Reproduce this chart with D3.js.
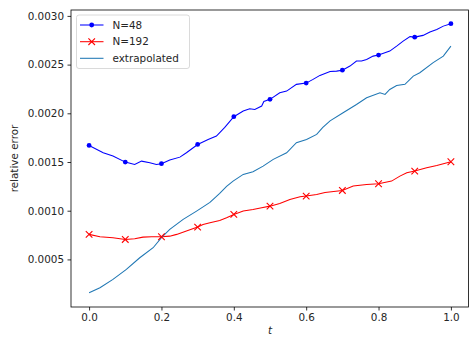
<!DOCTYPE html>
<html><head><meta charset="utf-8">
<script src="https://cdn.jsdelivr.net/npm/d3@7"></script>
<style>
html,body{margin:0;padding:0;background:#fff;}
text{font-family:"DejaVu Sans",sans-serif;}
</style></head>
<body>
<svg id="chart" width="469" height="337"></svg>
<script>
const xTicks = [0.0, 0.2, 0.4, 0.6, 0.8, 1.0];
const yTicks = [0.0005, 0.0010, 0.0015, 0.0020, 0.0025, 0.0030];
const markerT = [0.0, 0.1, 0.2, 0.3, 0.4, 0.5, 0.6, 0.7, 0.8, 0.9, 1.0];

const tN48 = [0,0.039,0.066,0.1,0.126,0.145,0.168,0.186,0.2,0.223,0.251,0.269,0.3,0.329,0.352,0.375,0.4,0.426,0.444,0.458,0.477,0.483,0.5,0.527,0.546,0.573,0.6,0.619,0.638,0.666,0.684,0.7,0.721,0.739,0.753,0.767,0.785,0.8,0.831,0.85,0.868,0.887,0.9,0.923,0.942,0.961,0.979,1.0];
const vN48 = [0.001670,0.001595,0.001561,0.001499,0.001475,0.001509,0.001493,0.001475,0.001483,0.001520,0.001550,0.001595,0.001680,0.001732,0.001766,0.001855,0.001965,0.002023,0.002047,0.002040,0.002074,0.002122,0.002143,0.002211,0.002228,0.002297,0.002310,0.002348,0.002389,0.002430,0.002433,0.002443,0.002485,0.002536,0.002536,0.002553,0.002587,0.002598,0.002639,0.002690,0.002741,0.002787,0.002782,0.002800,0.002834,0.002861,0.002895,0.002920];

const tN192 = [0,0.030,0.066,0.1,0.126,0.149,0.173,0.2,0.223,0.242,0.269,0.3,0.315,0.334,0.361,0.380,0.4,0.426,0.453,0.477,0.5,0.527,0.555,0.583,0.6,0.629,0.652,0.7,0.730,0.767,0.8,0.836,0.859,0.878,0.9,0.933,0.961,1.0];
const vN192 = [0.000757,0.000733,0.000723,0.000705,0.000713,0.000729,0.000733,0.000733,0.000739,0.000757,0.000791,0.000832,0.000859,0.000877,0.000900,0.000928,0.000962,0.000996,0.001013,0.001031,0.001047,0.001075,0.001116,0.001144,0.001150,0.001167,0.001188,0.001208,0.001253,0.001270,0.001277,0.001304,0.001355,0.001390,0.001407,0.001441,0.001465,0.001503];

const tExt = [0,0.030,0.066,0.103,0.140,0.177,0.200,0.223,0.260,0.297,0.334,0.361,0.380,0.398,0.426,0.453,0.481,0.509,0.546,0.573,0.601,0.629,0.646,0.666,0.702,0.739,0.767,0.804,0.818,0.831,0.850,0.873,0.896,0.914,0.951,0.979,1.0];
const vExt = [0.000158,0.000209,0.000295,0.000397,0.000517,0.000620,0.000723,0.000808,0.000911,0.000996,0.001085,0.001178,0.001250,0.001304,0.001373,0.001400,0.001458,0.001527,0.001595,0.001698,0.001732,0.001783,0.001855,0.001922,0.002006,0.002091,0.002160,0.002211,0.002194,0.002245,0.002286,0.002297,0.002382,0.002417,0.002520,0.002587,0.002690];

const seriesNames = ["N=48", "N=192", "extrapolated"];
const seriesColors = ["#0000ff", "#ff0000", "#1f77b4"];

const svg = d3.select("#chart");
const L = 71, R = 469, T = 10, B = 307;
const x = d3.scaleLinear().domain([-0.05, 1.05]).range([L, R]);
const y = d3.scaleLinear().domain([0.0000115, 0.0030605]).range([B, T]);

const fs = 10.4;
const xAxis = d3.axisBottom(x).tickValues(xTicks).tickFormat(d3.format(".1f")).tickSizeOuter(0).tickSize(3.5).tickPadding(3.5);
const yAxis = d3.axisLeft(y).tickValues(yTicks).tickFormat(d3.format(".4f")).tickSizeOuter(0).tickSize(3.5).tickPadding(3.5);
const gx = svg.append("g").attr("transform", `translate(0,${B})`).call(xAxis);
const gy = svg.append("g").attr("transform", `translate(${L},0)`).call(yAxis);
[gx, gy].forEach(g => {
  g.select(".domain").remove();
  g.selectAll(".tick line").attr("stroke", "#000").attr("stroke-width", 0.8);
  g.selectAll(".tick text").attr("fill", "#262626").style("font-size", fs + "px").style("font-family", "DejaVu Sans");
});

const clip = svg.append("clipPath").attr("id", "clip").append("rect").attr("x", L).attr("y", T).attr("width", R - L).attr("height", B - T);
const plot = svg.append("g").attr("clip-path", "url(#clip)");
const line = d3.line().x(d => x(d[0])).y(d => y(d[1]));
const zip = (a, b) => a.map((t, i) => [t, b[i]]);

const dExt = zip(tExt, vExt), d48 = zip(tN48, vN48), d192 = zip(tN192, vN192);
plot.append("path").attr("d", line(d48)).attr("fill", "none").attr("stroke", seriesColors[0]).attr("stroke-width", 1.05);
plot.append("path").attr("d", line(d192)).attr("fill", "none").attr("stroke", seriesColors[1]).attr("stroke-width", 1.05);
plot.append("path").attr("d", line(dExt)).attr("fill", "none").attr("stroke", seriesColors[2]).attr("stroke-width", 1.05);

const m48 = d48.filter(d => markerT.some(t => Math.abs(t - d[0]) < 1e-9));
const m192 = d192.filter(d => markerT.some(t => Math.abs(t - d[0]) < 1e-9));
svg.append("g").selectAll("circle").data(m48).join("circle")
  .attr("cx", d => x(d[0])).attr("cy", d => y(d[1])).attr("r", 2.4).attr("fill", seriesColors[0]);
const xs = 3.3;
svg.append("g").selectAll("path").data(m192).join("path")
  .attr("d", d => { const cx = x(d[0]), cy = y(d[1]); return `M${cx-xs},${cy-xs}L${cx+xs},${cy+xs}M${cx-xs},${cy+xs}L${cx+xs},${cy-xs}`; })
  .attr("stroke", seriesColors[1]).attr("stroke-width", 1.1).attr("fill", "none");

svg.append("rect").attr("x", L).attr("y", T).attr("width", R - L - 0.5).attr("height", B - T)
  .attr("fill", "none").attr("stroke", "#000").attr("stroke-width", 0.8);

svg.append("text").attr("x", (L + R) / 2).attr("y", 334).attr("text-anchor", "middle")
  .style("font-size", fs + "px").style("font-style", "italic").attr("fill", "#262626").text("t");
svg.append("text").attr("transform", `translate(18,${(T + B) / 2}) rotate(-90)`).attr("text-anchor", "middle")
  .style("font-size", fs + "px").attr("fill", "#262626").text("relative error");

const lg = svg.append("g");
lg.append("rect").attr("x", 76.5).attr("y", 15).attr("width", 113).attr("height", 53.5).attr("rx", 2.5)
  .attr("fill", "#fff").attr("fill-opacity", 0.8).attr("stroke", "#d0d0d0").attr("stroke-width", 0.8);
const ly = [25, 41.7, 58.3];
seriesNames.forEach((n, i) => {
  lg.append("line").attr("x1", 80).attr("x2", 103.5).attr("y1", ly[i]).attr("y2", ly[i]).attr("stroke", seriesColors[i]).attr("stroke-width", 1.05);
  if (i === 0) lg.append("circle").attr("cx", 91.7).attr("cy", ly[i]).attr("r", 2.4).attr("fill", seriesColors[0]);
  if (i === 1) lg.append("path").attr("d", `M${91.7-xs},${ly[i]-xs}L${91.7+xs},${ly[i]+xs}M${91.7-xs},${ly[i]+xs}L${91.7+xs},${ly[i]-xs}`).attr("stroke", seriesColors[1]).attr("stroke-width", 1.1);
  lg.append("text").attr("x", 112.5).attr("y", ly[i]).attr("dy", "0.36em").style("font-size", fs + "px").attr("fill", "#262626").text(n);
});
</script>
</body></html>
